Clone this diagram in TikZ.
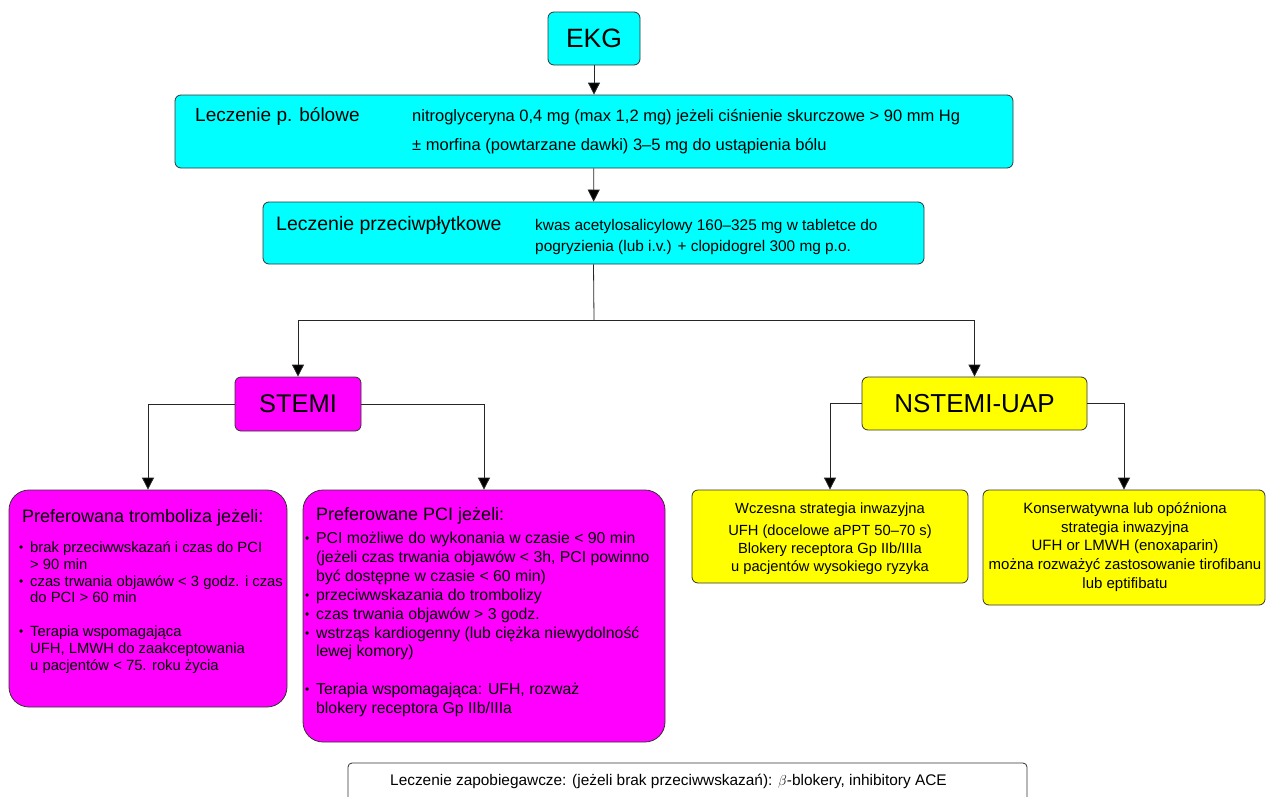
\documentclass[tikz,border=0pt]{standalone}
\usepackage{fontspec}
\setmainfont{Liberation Sans}
\usetikzlibrary{arrows.meta,positioning}
\newcommand\fs[2]{\fontsize{#1}{#2}\selectfont}
\definecolor{ekgcyan}{RGB}{0,255,255}
\definecolor{stemimag}{RGB}{255,0,255}
\definecolor{nstemiyel}{RGB}{255,255,0}

\begin{document}
\begin{tikzpicture}[x=1pt, y=-1pt,
  box/.style={
    draw=black!80, line width=0.8pt, rectangle,
    rounded corners=6pt, inner sep=0pt
  },
  cyanbox/.style={box, fill=ekgcyan},
  magbox/.style={box, fill=stemimag},
  yelbox/.style={box, fill=nstemiyel},
  txt/.style={inner sep=0pt, anchor=west, align=left},
  ctxt/.style={inner sep=0pt, align=center},
  arr/.style={draw=black!85, line width=0.8pt, -{Triangle[width=12pt,length=12pt,fill=black]}},
  line/.style={draw=black!85, line width=0.8pt},
]

\def\bul{\makebox[11pt][l]{\raisebox{1pt}{\fs{12}{12}\textbullet}}}
\def\ind{\hspace*{11pt}}

\useasboundingbox (0,0) rectangle (1267,796);

% top of the chart
\node[cyanbox, minimum width=92pt, minimum height=53pt, font=\fs{26.5}{30}] (ekg) at (594,38.5) {EKG};
\node[cyanbox, minimum width=838pt, minimum height=73pt] (bol) at (594,131.5) {};
\node[txt, font=\fs{19}{22}] (boltit) at (195,116) {Leczenie p. bólowe};
\node[txt, font=\fs{16.5}{20}] (bola) at (412,117)
  {nitroglyceryna 0,4 mg (max 1,2 mg) jeżeli ciśnienie skurczowe > 90 mm Hg};
\node[txt, font=\fs{16.5}{20}] (bolb) at (412,146)
  {± morfina (powtarzane dawki) 3--5 mg do ustąpienia bólu};

\node[cyanbox, minimum width=661pt, minimum height=62pt] (plyt) at (593.5,233) {};
\node[txt, font=\fs{19.5}{22}] (plyttit) at (276,225) {Leczenie przeciwpłytkowe};
\node[txt, font=\fs{15.4}{21}] (plyttxt) at (535,237)
  {kwas acetylosalicylowy 160--325 mg w tabletce do\\
   pogryzienia (lub i.v.) + clopidogrel 300 mg p.o.};

% two branches
\node[magbox, minimum width=126pt, minimum height=54pt, font=\fs{25.5}{30}] (stemi) at (298,404) {STEMI};
\node[yelbox, minimum width=225pt, minimum height=53pt, font=\fs{26}{30}] (nstemi) at (974.5,403.5) {NSTEMI-UAP};

\node[magbox, rounded corners=20pt, minimum width=278pt, minimum height=217pt] (tromb) at (148,598.5) {};
\node[txt, font=\fs{18}{21}] (trombtit) at (22,518) {Preferowana tromboliza jeżeli:};
\node[txt, font=\fs{14.8}{16.9}] (tromblist) at (19,607.5)
  {\bul brak przeciwwskazań i czas do PCI\\
   \ind > 90 min\\
   \bul czas trwania objawów < 3 godz. i czas\\
   \ind do PCI > 60 min\\[16.9pt]
   \bul Terapia wspomagająca\\
   \ind UFH, LMWH do zaakceptowania\\
   \ind u pacjentów < 75. roku życia};

\node[magbox, rounded corners=20pt, minimum width=362pt, minimum height=252pt] (pci) at (484,616) {};
\node[txt, font=\fs{18}{21}] (pcitit) at (316,516) {Preferowane PCI jeżeli:};
\node[txt, font=\fs{15.8}{18.9}] (pcilist) at (305,624.5)
  {\bul PCI możliwe do wykonania w czasie < 90 min\\
   \ind (jeżeli czas trwania objawów < 3h, PCI powinno\\
   \ind być dostępne w czasie < 60 min)\\
   \bul przeciwwskazania do trombolizy\\
   \bul czas trwania objawów > 3 godz.\\
   \bul wstrząs kardiogenny (lub ciężka niewydolność\\
   \ind lewej komory)\\[18.9pt]
   \bul Terapia wspomagająca: UFH, rozważ\\
   \ind blokery receptora Gp IIb/IIIa};

\node[yelbox, minimum width=276pt, minimum height=93pt] (early) at (830,536.5) {};
\node[ctxt, font=\fs{14.7}{17.7}] (earlytxt) at (830,538.5)
  {Wczesna strategia inwazyjna\\[5pt]
   UFH (docelowe aPPT 50--70 s)\\
   Blokery receptora Gp IIb/IIIa\\
   u pacjentów wysokiego ryzyka};

\node[yelbox, minimum width=282pt, minimum height=115pt] (cons) at (1124,547.5) {};
\node[ctxt, font=\fs{15}{18.75}] (constxt) at (1125,547)
  {Konserwatywna lub opóźniona\\
   strategia inwazyjna\\
   UFH or LMWH (enoxaparin)\\
   można rozważyć zastosowanie tirofibanu\\
   lub eptifibatu};

% bottom
\node[box, fill=white, rounded corners=4pt, minimum width=679pt, minimum height=60pt] (prev) at (687.5,793) {};
\node[txt, font=\fs{15.4}{18}] (prevtxt) at (390,781)
  {Leczenie zapobiegawcze: (jeżeli brak przeciwwskazań): $\beta$-blokery, inhibitory ACE};

% connectors
\coordinate (split) at (594,320);
\draw[arr] (ekg) -- (bol);
\draw[arr] (bol) -- (plyt);
\draw[line] (plyt.south) -- (split);
\draw[arr] (split) -| (stemi.north);
\draw[arr] (split) -| (nstemi.north);
\draw[arr] (stemi.west) -| (tromb.north);
\draw[arr] (stemi.east) -| (pci.north);
\draw[arr] (nstemi.west) -| (early.north);
\draw[arr] (nstemi.east) -| (cons.north);

\end{tikzpicture}
\end{document}
